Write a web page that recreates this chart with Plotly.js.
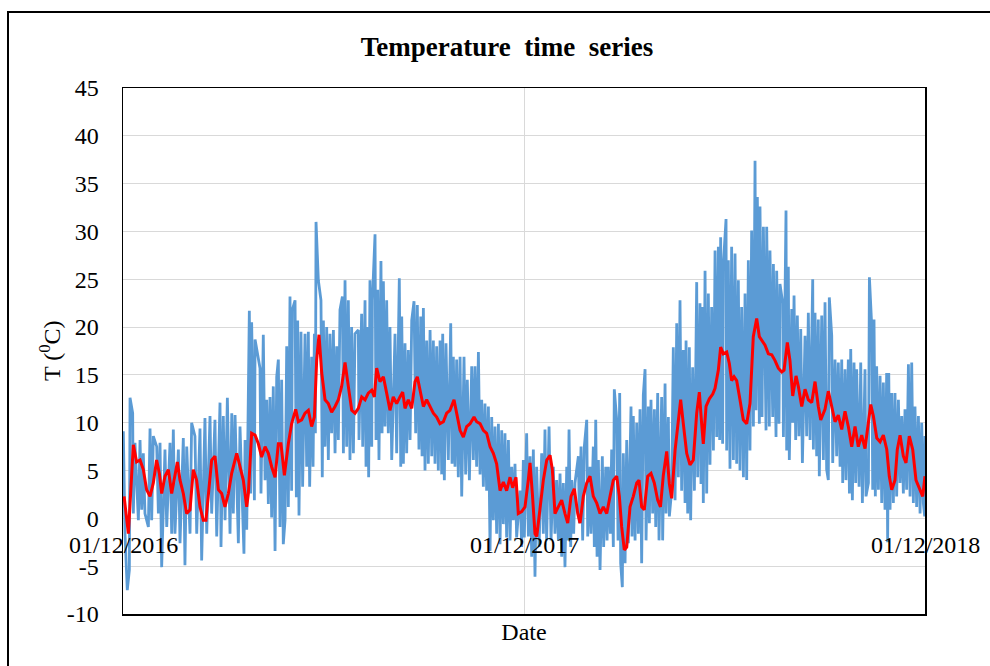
<!DOCTYPE html>
<html>
<head>
<meta charset="utf-8">
<script src="https://cdn.plot.ly/plotly-3.0.1.min.js"></script>
<style>
  html, body { margin: 0; padding: 0; background: #ffffff; }
  #chart { width: 990px; height: 666px; }
</style>
</head>
<body>
<div id="chart"></div>
<script>
// Days are counted from 01/12/2016; temperatures in °C.

// Smoothed (daily mean) temperature
const meanDay = [
  1.0,4.9,9.4,12.4,15.5,18.5,21.5,24.6,27.6,30.6,33.1,35.2,38.2,41.3,44.3,47.3,49.5,51.9,54.9,57.9,
  61.0,64.0,67.0,70.1,73.1,75.5,77.7,80.7,83.7,86.8,89.8,92.8,95.9,98.9,103.5,106.5,109.5,112.6,114.1,117.1,
  120.2,123.2,
  126.2,129.3,132.3,135.3,138.4,141.4,143.8,146.9,150.5,153.5,157.2,159.6,162.6,165.7,168.7,171.7,174.2,176.3,178.4,180.9,
  183.9,186.9,189.9,193.0,196.0,199.0,202.1,205.1,208.2,211.2,214.2,217.3,220.3,223.3,226.4,228.8,230.9,233.9,237.0,240.0,
  243.0,246.0,
  249.1,252.1,254.6,256.7,259.7,262.8,265.8,267.9,270.3,273.4,276.4,279.4,282.5,285.5,288.5,291.6,294.6,297.6,301.3,303.7,
  306.8,309.8,312.8,315.9,319.5,321.9,325.0,328.0,331.0,334.1,337.1,340.1,343.2,346.2,349.2,352.3,354.7,357.7,359.8,362.9,
  365.9,368.9,
  370.5,372.6,375.0,376.6,379.6,382.6,385.7,388.7,390.8,393.2,396.2,399.3,402.3,404.8,407.8,410.8,413.9,416.0,419.0,422.1,
  425.1,428.1,431.2,434.2,437.2,440.3,443.3,446.3,449.4,451.8,453.9,456.3,458.5,461.5,464.5,467.6,469.7,472.1,474.5,477.6,
  480.6,483.6,486.7,489.2,491.8,
  494.9,497.3,499.4,502.5,505.5,507.6,510.0,513.1,516.1,519.1,522.2,524.6,526.7,528.2,530.7,533.7,536.8,538.9,541.9,544.0,
  546.4,549.5,551.9,554.0,556.2,558.6,561.6,564.6,567.7,570.7,573.7,576.8,579.2,581.4,584.4,587.4,590.5,593.5,596.5,599.6,
  601.7,604.7,607.1,609.6,612.6,614.7,
  617.8,620.8,623.8,626.9,629.9,632.9,635.1,639.0,642.0,645.1,648.1,651.1,654.2,657.2,660.2,663.3,666.3,669.3,672.4,675.4,
  678.4,680.6,683.0,686.1,689.1,692.1,695.2,697.5,699.7,702.7,704.8,707.3,710.3,712.7,715.7,718.8,721.8,724.8,727.9,730.0
];
const meanTemp = [
  2.3,-1.6,7.7,5.9,6.1,5.1,3.0,2.3,3.7,6.1,4.7,2.6,4.4,5.1,2.6,4.4,5.9,4.0,2.6,0.5,
  0.9,5.1,4.0,1.2,-0.2,-0.2,2.3,6.1,6.5,3.0,2.6,1.2,2.6,4.7,6.8,5.4,4.0,1.2,2.6,8.9,
  8.7,7.8,
  6.4,7.5,6.8,5.4,4.3,7.8,7.8,4.5,7.8,9.9,11.4,10.1,10.3,11.0,11.3,9.6,10.6,16.6,19.2,15.2,
  12.4,12.0,11.1,11.7,12.4,13.8,16.3,13.8,11.3,11.0,11.5,12.7,12.4,13.1,13.4,12.7,15.7,14.3,14.8,13.1,
  11.3,12.7,
  12.0,12.7,13.2,11.5,12.4,11.5,14.3,14.8,13.4,11.7,12.4,11.7,11.0,10.6,9.9,10.1,11.0,11.3,12.4,11.0,
  9.2,8.5,9.6,9.9,10.6,10.1,9.9,9.2,8.9,7.5,6.8,5.7,2.9,3.8,2.9,4.3,3.2,4.3,0.5,0.7,
  1.2,4.0,
  5.8,2.6,-1.6,-1.9,1.2,4.0,6.1,6.6,5.1,0.5,1.2,1.9,0.5,-0.5,2.3,3.1,0.5,-0.5,2.3,3.7,
  4.4,2.3,1.6,0.5,1.2,0.5,2.3,4.0,4.4,2.3,-0.9,-3.3,-3.0,1.2,2.3,3.7,4.0,1.2,0.9,4.4,
  4.7,3.7,1.9,1.2,4.5,
  7.0,3.6,2.1,7.1,10.6,12.4,9.9,6.8,5.6,6.1,11.0,13.2,9.9,7.8,11.7,12.5,13.0,13.6,15.5,17.9,
  17.2,17.4,16.2,14.4,14.8,14.4,12.4,10.3,9.9,12.0,19.0,20.9,19.0,18.6,18.1,17.2,17.1,16.5,15.7,15.3,
  15.5,18.4,16.5,12.8,14.9,13.8,
  11.7,13.5,12.4,12.1,14.3,11.7,10.3,11.4,13.3,11.7,10.1,10.8,9.3,11.2,9.6,7.5,9.6,7.5,8.7,7.3,
  10.0,11.9,10.7,8.4,8.0,8.7,7.2,4.4,3.0,4.0,7.2,8.7,6.5,5.8,8.6,7.2,4.0,3.1,2.3,4.4
];

// Sub-daily readings: local highs of each swing
const highDay = [
  0.3,6.4,8.8,10.9,15.5,18.5,24.6,27.6,30.7,33.7,38.2,42.8,45.8,50.4,54.9,58.0,62.5,65.5,70.1,74.6,
  79.2,83.7,88.3,91.3,95.0,99.0,102.0,106.5,111.1,115.0,117.1,120.2,
  124.7,127.7,130.8,133.8,136.8,139.9,141.4,144.4,149.0,152.0,154.1,156.6,159.0,162.0,165.7,168.7,171.7,174.2,175.7,177.8,
  180.2,182.4,185.4,188.4,191.5,194.5,197.5,199.7,202.1,205.1,208.1,211.2,214.2,217.2,220.3,222.7,224.8,227.0,229.4,231.8,
  234.8,237.0,240.0,243.0,
  247.6,251.5,253.7,256.7,259.7,262.8,264.9,267.9,271.0,273.4,276.4,279.5,282.5,285.5,288.6,291.0,294.0,298.3,300.7,303.7,
  306.8,310.4,313.4,317.4,320.4,323.5,326.5,329.5,332.6,335.6,338.6,341.7,344.7,347.7,350.8,353.8,356.8,361.4,364.4,
  367.4,370.5,373.5,376.5,381.1,384.1,387.8,391.7,394.7,397.8,400.8,403.9,406.0,408.4,411.4,414.5,416.9,419.9,422.1,425.1,
  428.1,430.3,432.7,436.3,439.4,441.8,444.8,447.2,449.4,452.1,455.4,458.5,462.4,464.5,467.6,470.6,473.6,475.2,478.2,480.6,
  483.7,486.7,
  490.3,493.4,496.4,500.9,504.0,507.0,510.0,512.5,515.5,518.5,522.2,525.2,527.6,529.8,532.8,535.8,538.9,541.9,544.0,546.5,
  548.9,551.0,554.0,557.1,560.1,563.1,566.2,569.2,572.2,575.3,577.4,579.8,582.9,585.9,588.9,592.0,595.0,598.0,600.5,603.5,
  605.6,
  608.7,610.8,613.8,616.9,620.8,623.8,627.8,629.9,632.9,636.0,639.0,642.9,645.1,648.1,651.1,654.2,657.2,660.2,662.4,665.4,
  667.8,671.5,675.4,679.4,681.5,683.6,686.0,689.1,692.1,695.1,697.0,699.7,702.7,705.8,708.8,711.8,714.9,717.9,720.9,724.0,
  727.0,730.0
];
const highTemp = [
  9.1,12.6,11.0,7.9,8.2,6.8,9.4,8.6,7.5,7.9,7.2,7.9,9.3,7.2,8.4,7.5,10.0,8.6,9.4,10.5,
  10.7,10.3,12.1,10.7,12.6,11.0,10.8,9.6,8.2,21.7,20.5,18.7,
  15.7,19.2,12.4,12.7,13.8,14.8,16.6,14.5,18.0,23.2,21.8,22.8,20.7,19.5,19.3,19.5,16.9,19.3,31.0,24.9,
  22.8,20.7,20.0,19.3,19.7,18.0,21.8,23.2,24.9,22.8,20.0,19.3,19.7,21.4,22.8,20.0,24.9,22.8,29.7,23.9,
  26.9,24.8,22.8,20.0,
  19.3,25.1,21.1,18.3,17.6,20.7,22.7,22.3,21.1,22.0,18.6,19.7,18.6,18.0,18.6,19.3,18.3,20.4,16.9,16.6,
  16.9,16.9,14.5,15.9,15.9,17.4,12.4,12.0,11.7,10.6,9.6,9.9,9.2,8.9,8.2,5.4,5.7,2.9,6.1,
  8.9,6.5,7.2,5.4,6.8,9.3,9.6,5.4,4.0,4.7,3.7,5.4,9.3,4.0,3.7,6.5,7.5,7.5,10.3,5.4,
  7.5,10.3,6.1,6.5,5.4,5.4,7.2,13.5,10.3,13.1,6.8,8.2,11.7,10.7,10.0,11.4,12.9,15.6,11.7,12.4,
  11.4,13.1,
  12.7,14.1,10.6,17.9,20.4,22.8,17.6,18.6,17.9,15.8,24.7,22.5,22.1,25.9,23.5,22.1,28.0,28.4,29.4,26.6,
  31.3,27.0,28.4,27.7,24.9,22.1,23.5,27.0,30.1,37.4,33.6,32.6,30.5,30.5,28.0,26.6,25.9,24.5,22.5,32.2,
  26.3,
  21.9,23.3,21.2,19.8,19.1,21.5,25.0,21.5,20.8,21.2,22.6,23.1,19.1,16.6,16.3,16.6,15.6,16.6,17.7,16.3,
  15.6,16.3,15.6,25.2,20.1,20.8,15.9,14.9,14.2,15.2,15.2,13.1,13.1,12.4,10.7,11.4,16.1,16.3,11.7,10.7,
  10.0,8.6
];

// Sub-daily readings: local lows of each swing
const lowDay = [
  1.8,3.9,5.8,9.4,14.0,17.0,20.0,23.1,26.1,32.2,35.2,39.8,44.3,47.3,51.9,56.4,61.0,67.1,71.6,76.2,
  80.7,85.3,89.2,92.9,97.4,100.4,105.0,110.1,112.6,116.2,119.6,
  125.6,129.3,132.3,135.3,138.4,142.9,145.9,147.5,150.5,153.5,157.8,160.2,163.5,167.2,169.9,173.0,175.1,181.4,183.9,186.9,
  189.9,193.0,196.0,200.6,203.6,206.6,209.7,214.8,218.2,221.2,223.6,226.4,230.3,233.0,235.8,238.5,241.5,
  244.6,249.1,252.8,255.2,258.2,261.3,266.4,269.4,272.2,274.9,277.9,281.0,284.0,287.0,290.1,292.5,296.1,299.5,302.2,305.2,
  308.3,311.9,315.3,318.9,321.9,325.0,328.0,331.0,334.1,337.1,340.1,343.2,346.2,349.2,352.3,355.3,358.3,362.9,365.3,
  369.0,372.0,375.0,378.7,382.6,385.6,389.6,393.2,396.3,399.3,402.3,404.8,407.5,410.2,415.4,418.4,423.0,426.0,429.0,431.5,
  434.2,437.5,440.6,443.6,446.3,450.6,453.0,454.5,457.0,460.0,463.3,466.1,469.1,472.1,476.1,479.1,482.1,484.9,487.9,
  491.2,494.3,497.3,499.4,502.5,505.5,508.5,511.6,514.0,516.7,520.1,523.1,526.1,528.2,531.3,534.3,537.4,540.4,543.1,545.8,
  549.5,552.5,555.6,558.6,561.6,564.7,567.7,570.7,573.8,576.2,579.2,581.7,585.3,588.3,591.4,594.4,597.1,601.1,604.1,606.5,
  609.6,612.3,615.3,618.4,622.3,625.4,628.4,631.4,633.8,637.5,640.5,642.0,646.0,649.6,652.7,655.1,658.1,661.2,663.9,666.9,
  670.0,673.0,676.3,678.5,682.4,684.8,687.6,690.6,693.6,696.0,698.2,701.2,704.2,707.3,710.3,713.3,716.4,719.4,722.4,725.5,
  728.5,729.7
];
const lowTemp = [
  -1.6,-7.5,-5.4,0.5,-0.2,0.9,0.5,-0.9,-0.2,0.5,-5.1,-0.9,-1.6,-1.6,-2.6,-4.9,-1.6,-1.6,-4.4,-1.6,
  0.5,-1.9,-3.0,-0.2,-1.6,0.5,-2.6,-3.7,-1.2,2.6,1.9,
  2.6,4.0,1.5,0.1,-3.4,-0.9,-2.7,-0.2,1.2,2.9,2.2,0.3,3.3,5.4,3.3,5.4,8.9,4.3,7.5,6.1,
  8.9,6.8,8.2,6.8,7.5,6.1,6.8,8.2,7.5,5.4,4.3,7.5,8.2,6.1,8.9,9.6,8.9,
  6.1,6.8,5.4,5.7,6.8,8.2,8.9,7.2,6.5,5.0,5.7,6.5,5.7,5.0,4.6,4.0,6.1,5.7,5.4,4.3,
  2.3,4.6,4.0,6.1,5.4,4.6,3.3,2.9,-3.4,-0.2,-1.6,-2.7,-0.6,-2.0,-2.3,-0.2,-2.0,-3.0,-2.0,
  -1.9,-4.0,-6.1,-3.0,-1.6,-2.3,-2.3,-1.6,-2.3,-4.0,-5.1,-2.3,-3.0,-1.6,-0.5,-2.3,-1.9,-1.6,-3.0,-4.0,
  -5.4,-3.0,-2.3,-1.6,-3.0,-2.3,-4.7,-7.2,-4.7,-2.6,-1.9,-2.3,-1.6,-4.7,-2.3,-0.5,0.5,-0.9,-2.3,
  -2.3,0.5,0.2,2.9,1.9,4.3,2.9,1.6,0.5,-0.2,2.9,4.3,3.6,1.6,2.6,5.6,7.1,8.5,8.2,7.8,
  7.1,5.2,6.1,5.7,5.0,4.3,4.0,7.1,9.6,11.3,9.9,10.6,9.2,9.6,10.6,8.5,9.9,8.5,7.1,6.1,
  10.0,8.2,8.6,5.8,8.6,8.2,7.2,6.5,4.4,6.1,5.1,4.0,5.8,6.5,5.4,3.7,4.0,2.6,1.9,3.7,
  3.3,1.6,2.3,3.7,3.0,2.3,3.0,1.6,0.9,-2.5,0.9,1.6,2.3,3.7,2.6,3.0,2.3,1.6,1.2,0.5,
  1.6,0.2
];

// Axis ticks
const dateTicks = ['2016-12-01', '2017-12-01', '2018-12-01'];
const dateTickText = ['01/12/2016', '01/12/2017', '01/12/2018'];
const tempTicks = [-10, -5, 0, 5, 10, 15, 20, 25, 30, 35, 40, 45];

const DAY0 = Date.UTC(2016, 11, 1);
function toDate(d) {
  return new Date(DAY0 + d * 86400000).toISOString().slice(0, 19).replace('T', ' ');
}

// Put highs and lows in time order so the trace swings between them
const swings = highDay.map((d, i) => [d, highTemp[i]])
  .concat(lowDay.map((d, i) => [d, lowTemp[i]]))
  .sort((a, b) => a[0] - b[0]);

const SERIF = '"Liberation Serif", "Times New Roman", Times, serif';

const traces = [
  {
    type: 'scatter', mode: 'lines', name: 'T',
    x: swings.map(p => toDate(p[0])),
    y: swings.map(p => p[1]),
    line: { color: '#5b9bd5', width: 2.8 },
    hoverinfo: 'skip'
  },
  {
    type: 'scatter', mode: 'lines', name: 'T mean',
    x: meanDay.map(toDate),
    y: meanTemp,
    line: { color: '#ff0000', width: 3 },
    hoverinfo: 'skip'
  }
];

// Plot-area box in pixels
const W = 990, H = 666, PL = 123, PR = 925, PT = 88, PB = 614;
const pw = PR - PL, ph = PB - PT;
const px = v => (v - PL) / pw;
const py = v => (PB - v) / ph;

const layout = {
  width: W, height: H,
  margin: { l: PL, r: W - PR, t: PT, b: H - PB, pad: 0 },
  paper_bgcolor: '#ffffff',
  plot_bgcolor: '#ffffff',
  showlegend: false,
  font: { family: SERIF, size: 24, color: '#000000' },
  title: {
    text: '<b>Temperature  time  series</b>',
    font: { family: SERIF, size: 27, color: '#000000' },
    xref: 'container', x: 507 / W, xanchor: 'center',
    yref: 'container', y: 1 - 47 / H, yanchor: 'middle'
  },
  xaxis: {
    type: 'date',
    range: [dateTicks[0], dateTicks[2]],
    tickvals: dateTicks,
    showticklabels: false,
    ticks: '',
    showgrid: true, gridcolor: '#d9d9d9', gridwidth: 1,
    showline: true, linecolor: '#000000', linewidth: 1.5, mirror: true,
    zeroline: false,
    title: { text: 'Date', font: { family: SERIF, size: 24 }, standoff: 8 }
  },
  yaxis: {
    range: [-10, 45],
    tickvals: tempTicks,
    ticktext: tempTicks.map(String),
    ticks: 'outside', ticklen: 18, tickcolor: 'rgba(0,0,0,0)',
    tickfont: { family: SERIF, size: 24, color: '#000000' },
    showgrid: true, gridcolor: '#d9d9d9', gridwidth: 1,
    showline: true, linecolor: '#000000', linewidth: 1.5, mirror: true,
    zeroline: false
  },
  annotations: [
    // y-axis title
    {
      xref: 'paper', yref: 'paper', x: px(50), y: 0.5,
      xanchor: 'center', yanchor: 'middle', textangle: -90,
      text: 'T (<sup>0</sup>C)', showarrow: false,
      font: { family: SERIF, size: 24, color: '#000000' }
    }
  ].concat(
    // date labels sit under the 0 °C line
    dateTicks.map((d, i) => ({
      x: d, y: 0, xref: 'x', yref: 'y',
      text: dateTickText[i], showarrow: false,
      xanchor: 'center', yanchor: 'top', yshift: -12,
      font: { family: SERIF, size: 24, color: '#000000' }
    }))
  ),
  shapes: [{
    type: 'rect', xref: 'paper', yref: 'paper', layer: 'above',
    x0: px(8), x1: px(1005), y0: py(690), y1: py(12),
    line: { color: '#000000', width: 2 }, fillcolor: 'rgba(0,0,0,0)'
  }]
};

Plotly.newPlot('chart', traces, layout, { displayModeBar: false, staticPlot: true });
</script>
</body>
</html>
